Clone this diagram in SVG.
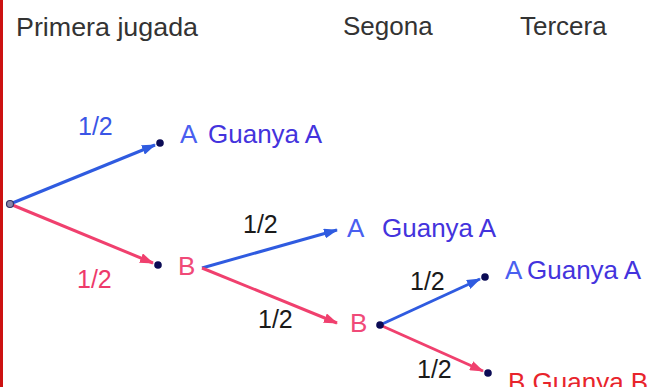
<svg xmlns="http://www.w3.org/2000/svg" width="662" height="387" viewBox="0 0 662 387">
  <style>
    .hdr { font-family: "Liberation Sans", Arial, sans-serif; font-size: 26px; fill: #333; }
    .lbl { font-family: "Liberation Sans", Arial, sans-serif; font-size: 25px; }
    .big { font-size: 26px; }
    .p-blue { fill: #3a55e6; }
    .p-red { fill: #ee3a6a; }
    .p-blk { fill: #1a1a1a; }
    .win { fill: #4433dd; }
    .node-a { fill: #4a5ff0; }
    .node-b { fill: #f04a78; }
    .end-b { fill: #e8242c; }
    .e-blue { stroke: #2f5be0; stroke-width: 3; fill: none; marker-end: url(#ah-blue); }
    .e-red { stroke: #f0406e; stroke-width: 3; fill: none; marker-end: url(#ah-red); }
    .dot { fill: #0b0b55; }
  </style>
  <defs>
    <marker id="ah-blue" markerUnits="userSpaceOnUse" markerWidth="14" markerHeight="10" refX="13" refY="5" orient="auto">
      <path d="M0,0 L14,5 L0,10 Z" fill="#2f5be0"/>
    </marker>
    <marker id="ah-red" markerUnits="userSpaceOnUse" markerWidth="14" markerHeight="10" refX="13" refY="5" orient="auto">
      <path d="M0,0 L14,5 L0,10 Z" fill="#f0406e"/>
    </marker>
  </defs>

  <rect x="0" y="0" width="662" height="387" fill="#ffffff"/>
  <rect x="0" y="0" width="3" height="387" fill="#cc1111"/>

  <!-- column headings -->
  <text class="hdr" x="16" y="36" textLength="182" lengthAdjust="spacingAndGlyphs">Primera jugada</text>
  <text class="hdr" x="343" y="35">Segona</text>
  <text class="hdr" x="520" y="35">Tercera</text>

  <!-- connectors -->
  <g id="edges">
    <line class="e-blue" x1="10" y1="204" x2="155" y2="145"/>
    <line class="e-red" x1="10" y1="204" x2="153" y2="263"/>
    <line class="e-blue" x1="202" y1="268" x2="337" y2="230"/>
    <line class="e-red" x1="202" y1="268" x2="337" y2="323"/>
    <line class="e-blue" x1="380" y1="325" x2="480" y2="279"/>
    <line class="e-red" x1="380" y1="325" x2="483" y2="371"/>
    <text class="lbl p-blue" x="78" y="135">1/2</text>
    <text class="lbl p-red" x="77" y="288">1/2</text>
    <text class="lbl p-blk" x="243" y="233">1/2</text>
    <text class="lbl p-blk" x="258" y="328">1/2</text>
    <text class="lbl p-blk" x="410" y="290">1/2</text>
    <text class="lbl p-blk" x="417" y="378">1/2</text>
  </g>

  <g id="root">
    <circle cx="10" cy="204" r="3.5" fill="#8888aa" stroke="#333366" stroke-width="1.2"/>
  </g>

  <g id="n1-a">
    <circle class="dot" cx="160" cy="143" r="3.8"/>
    <text class="lbl big node-a" x="180" y="143">A</text>
    <text class="lbl big win" x="208" y="143">Guanya A</text>
  </g>

  <g id="n1-b">
    <circle class="dot" cx="158" cy="265" r="3.8"/>
    <text class="lbl big node-b" x="178" y="275">B</text>
  </g>

  <g id="n2-a">
    <text class="lbl big node-a" x="347" y="237">A</text>
    <text class="lbl big win" x="382" y="237">Guanya A</text>
  </g>

  <g id="n2-b">
    <text class="lbl big node-b" x="350" y="332">B</text>
    <circle class="dot" cx="380" cy="325" r="3.8"/>
  </g>

  <g id="n3-a">
    <circle class="dot" cx="485" cy="277" r="3.8"/>
    <text class="lbl big node-a" x="505" y="279">A</text>
    <text class="lbl big win" x="527" y="279">Guanya A</text>
  </g>

  <g id="n3-b">
    <circle class="dot" cx="488" cy="373" r="3.8"/>
    <text class="lbl big end-b" x="508" y="391">B Guanya B</text>
  </g>
</svg>
